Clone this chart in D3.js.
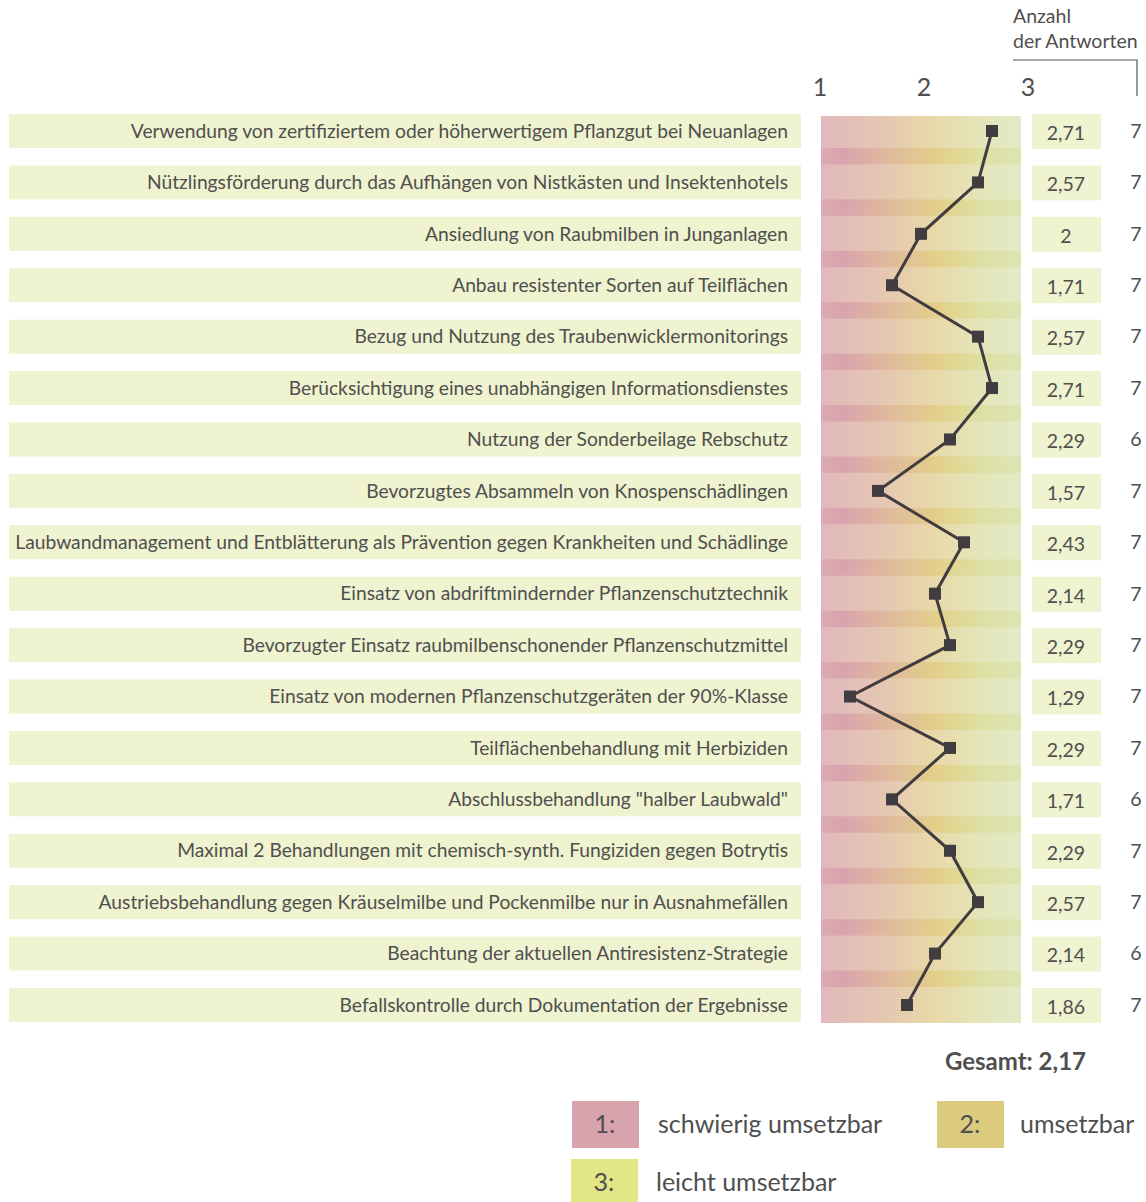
<!DOCTYPE html>
<html>
<head>
<meta charset="utf-8">
<style>
  body { margin: 0; background: #fff; }
  svg { display: block; }
  text { font-family: "Lato", "Open Sans", sans-serif; fill: #4f4f4f; }
</style>
</head>
<body>
<svg class="chart"></svg>
<script src="https://d3js.org/d3.v7.min.js"></script>
<script>
// data
const labels = [
  "Verwendung von zertifiziertem oder höherwertigem Pflanzgut bei Neuanlagen",
  "Nützlingsförderung durch das Aufhängen von Nistkästen und Insektenhotels",
  "Ansiedlung von Raubmilben in Junganlagen",
  "Anbau resistenter Sorten auf Teilflächen",
  "Bezug und Nutzung des Traubenwicklermonitorings",
  "Berücksichtigung eines unabhängigen Informationsdienstes",
  "Nutzung der Sonderbeilage Rebschutz",
  "Bevorzugtes Absammeln von Knospenschädlingen",
  "Laubwandmanagement und Entblätterung als Prävention gegen Krankheiten und Schädlinge",
  "Einsatz von abdriftmindernder Pflanzenschutztechnik",
  "Bevorzugter Einsatz raubmilbenschonender Pflanzenschutzmittel",
  "Einsatz von modernen Pflanzenschutzgeräten der 90%-Klasse",
  "Teilflächenbehandlung mit Herbiziden",
  "Abschlussbehandlung \"halber Laubwald\"",
  "Maximal 2 Behandlungen mit chemisch-synth. Fungiziden gegen Botrytis",
  "Austriebsbehandlung gegen Kräuselmilbe und Pockenmilbe nur in Ausnahmefällen",
  "Beachtung der aktuellen Antiresistenz-Strategie",
  "Befallskontrolle durch Dokumentation der Ergebnisse"
];
const means  = [2.71, 2.57, 2, 1.71, 2.57, 2.71, 2.29, 1.57, 2.43, 2.14, 2.29, 1.29, 2.29, 1.71, 2.29, 2.57, 2.14, 1.86];
const counts = [7, 7, 7, 7, 7, 7, 6, 7, 7, 7, 7, 7, 7, 6, 7, 7, 6, 7];
const ticks = [1, 2, 3];
const total = 2.17;
const legendItems = [
  {key: "1:", text: "schwierig umsetzbar", color: "#d9a3ad"},
  {key: "2:", text: "umsetzbar", color: "#dccb7e"},
  {key: "3:", text: "leicht umsetzbar", color: "#e3e684"}
];

const width = 1146, height = 1202;
const svg = d3.select(".chart").attr("width", width).attr("height", height);
const fmt = v => String(v).replace(".", ",");

const idx = d3.range(labels.length);
const y = d3.scalePoint().domain(idx).range([131, 1005]);
const x = d3.scaleLinear().domain([1, 3]).range([821, 1021]);
const xTick = d3.scaleLinear().domain([1, 3]).range([820, 1028]);
const rowH = 35;

// gradients
const defs = svg.append("defs");
function grad(id, stops) {
  const g = defs.append("linearGradient").attr("id", id)
    .attr("x1", "0%").attr("x2", "100%").attr("y1", "0%").attr("y2", "0%");
  stops.forEach(s => g.append("stop").attr("offset", s[0]).attr("stop-color", s[1]));
}
grad("light", [["0%", "#e2b8bd"], ["30%", "#e5c6b2"], ["55%", "#e8d8a8"], ["78%", "#e5e4b8"], ["100%", "#e2ebc6"]]);
grad("dark", [["0%", "#dcaab3"], ["10%", "#d9a3ae"], ["35%", "#e0bb9c"], ["58%", "#e3cf8a"], ["80%", "#dee0a2"], ["100%", "#dbe5b3"]]);

// background band
svg.append("rect")
  .attr("x", x(1)).attr("width", x(3) - x(1))
  .attr("y", y(0) - 15).attr("height", y(labels.length - 1) + 18 - (y(0) - 15))
  .attr("fill", "url(#light)");

// darker stripes between rows
svg.selectAll(".stripe")
  .data(idx.slice(0, -1))
  .join("rect")
  .attr("class", "stripe")
  .attr("x", x(1)).attr("width", x(3) - x(1))
  .attr("y", d => y(d) + 17)
  .attr("height", d => y(d + 1) - 18 - (y(d) + 17))
  .attr("fill", "url(#dark)");

// label boxes
svg.selectAll(".lbox")
  .data(idx)
  .join("rect")
  .attr("class", "lbox")
  .attr("x", 9).attr("width", 792)
  .attr("y", d => y(d) - 17).attr("height", rowH - 1)
  .attr("fill", "#eff3cf");

const lab = svg.selectAll(".label")
  .data(idx)
  .join("text")
  .attr("class", "label")
  .attr("x", 788)
  .attr("y", d => y(d))
  .attr("dy", "0.35em")
  .attr("text-anchor", "end")
  .style("font-size", "19px")
  .text(d => labels[d]);

// fit the font so the longest label spans like in the reference
const longest = lab.filter(d => d === 8).node().getComputedTextLength();
const fs = 19 * 773 / longest;
lab.style("font-size", fs + "px");

// value boxes
svg.selectAll(".vbox")
  .data(idx)
  .join("rect")
  .attr("class", "vbox")
  .attr("x", 1032).attr("width", 69)
  .attr("y", d => y(d) - 17).attr("height", rowH)
  .attr("fill", "#eff3cf");

svg.selectAll(".val")
  .data(idx)
  .join("text")
  .attr("class", "val")
  .attr("x", 1066)
  .attr("y", d => y(d) + 2)
  .attr("dy", "0.35em")
  .attr("text-anchor", "middle")
  .style("font-size", "19.5px")
  .text(d => fmt(means[d]));

svg.selectAll(".cnt")
  .data(idx)
  .join("text")
  .attr("class", "cnt")
  .attr("x", 1136)
  .attr("y", d => y(d))
  .attr("dy", "0.35em")
  .attr("text-anchor", "middle")
  .style("font-size", "19.5px")
  .text(d => counts[d]);

// tick labels
svg.selectAll(".tick")
  .data(ticks)
  .join("text")
  .attr("class", "tick")
  .attr("x", d => xTick(d))
  .attr("y", 96)
  .attr("text-anchor", "middle")
  .style("font-size", "25px")
  .text(d => d);

// header
svg.append("text").attr("x", 1013).attr("y", 23).style("font-size", "19.5px").text("Anzahl");
svg.append("text").attr("x", 1013).attr("y", 48).style("font-size", "19.5px").text("der Antworten");
svg.append("path")
  .attr("d", "M1013,60H1137V96")
  .attr("fill", "none").attr("stroke", "#555").attr("stroke-width", 1.2);

// line + markers
const line = d3.line().x(d => x(means[d])).y(d => y(d));
svg.append("path")
  .datum(idx)
  .attr("d", line)
  .attr("fill", "none")
  .attr("stroke", "#403c3f")
  .attr("stroke-width", 3);

svg.selectAll(".mark")
  .data(idx)
  .join("rect")
  .attr("class", "mark")
  .attr("x", d => x(means[d]) - 6)
  .attr("y", d => y(d) - 6)
  .attr("width", 12).attr("height", 12)
  .attr("fill", "#403c3f");

// total
svg.append("text")
  .attr("x", 1086).attr("y", 1070)
  .attr("text-anchor", "end")
  .style("font-size", "24px").style("font-weight", "bold")
  .text("Gesamt: " + fmt(total));

// legend
const legPos = [[572, 1101, 658], [937, 1101, 1020], [571, 1159, 656]];
legendItems.forEach((d, i) => {
  const p = legPos[i];
  svg.append("rect").attr("x", p[0]).attr("y", p[1]).attr("width", 67).attr("height", 47).attr("fill", d.color);
  svg.append("text").attr("x", p[0] + 33).attr("y", p[1] + 32).attr("text-anchor", "middle")
    .style("font-size", "25px").text(d.key);
  svg.append("text").attr("x", p[2]).attr("y", p[1] + 32)
    .style("font-size", "25px").text(d.text);
});
</script>
</body>
</html>
